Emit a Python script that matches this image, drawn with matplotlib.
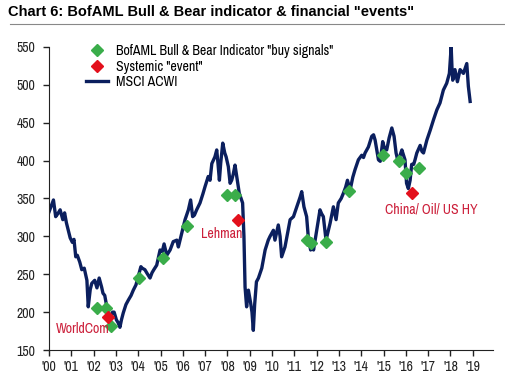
import matplotlib
matplotlib.use("Agg")
import matplotlib.pyplot as plt
from matplotlib.lines import Line2D

plt.rcParams['font.family'] = ['Archivo Narrow', 'Liberation Sans', 'DejaVu Sans']

# ── Data ─────────────────────────────────────────────────────────────────────
acwi_t = [2000.00, 2000.10, 2000.20, 2000.30, 2000.40, 2000.50, 2000.62, 2000.70, 2000.78, 2000.95,
          2001.05, 2001.12, 2001.20, 2001.27, 2001.38, 2001.47, 2001.58, 2001.70, 2001.76, 2001.85,
          2001.92, 2002.05, 2002.15, 2002.25, 2002.36, 2002.42, 2002.50, 2002.58, 2002.68, 2002.74,
          2002.85, 2002.92, 2003.02, 2003.10, 2003.18, 2003.25, 2003.33, 2003.45, 2003.56, 2003.68,
          2003.78, 2003.90, 2004.00, 2004.12, 2004.18, 2004.30, 2004.40, 2004.53, 2004.62, 2004.70,
          2004.83, 2004.98, 2005.08, 2005.16, 2005.28, 2005.43, 2005.57, 2005.73, 2005.80, 2005.95,
          2006.10, 2006.25, 2006.35, 2006.44, 2006.52, 2006.62, 2006.77, 2006.90, 2007.00, 2007.14,
          2007.22, 2007.30, 2007.44, 2007.52, 2007.58, 2007.64, 2007.70, 2007.79, 2007.88, 2007.94,
          2008.04, 2008.12, 2008.19, 2008.26, 2008.34, 2008.44, 2008.53, 2008.68, 2008.74, 2008.79,
          2008.86, 2008.94, 2009.04, 2009.10, 2009.16, 2009.22, 2009.30, 2009.39, 2009.54, 2009.69,
          2009.83, 2009.91, 2010.06, 2010.13, 2010.28, 2010.36, 2010.43, 2010.58, 2010.70, 2010.81,
          2010.96, 2011.11, 2011.26, 2011.33, 2011.43, 2011.55, 2011.63, 2011.73, 2011.80, 2011.86,
          2012.00, 2012.15, 2012.22, 2012.30, 2012.42, 2012.50, 2012.60, 2012.75, 2012.87, 2012.97,
          2013.10, 2013.20, 2013.30, 2013.38, 2013.50, 2013.62, 2013.72, 2013.87, 2014.02, 2014.10,
          2014.17, 2014.32, 2014.47, 2014.55, 2014.62, 2014.77, 2014.85, 2014.96, 2015.05, 2015.14,
          2015.25, 2015.37, 2015.47, 2015.56, 2015.67, 2015.75, 2015.82, 2015.96, 2016.03, 2016.11,
          2016.19, 2016.26, 2016.35, 2016.41, 2016.49, 2016.64, 2016.72, 2016.79, 2016.94, 2017.09,
          2017.24, 2017.39, 2017.53, 2017.68, 2017.83, 2017.95, 2018.03, 2018.07, 2018.10, 2018.20,
          2018.31, 2018.43, 2018.58, 2018.73, 2018.80, 2018.88]
acwi_v = [332, 340, 348, 326, 330, 335, 322, 331, 318, 298,
          292, 296, 273, 275, 266, 256, 258, 242, 207, 230,
          238, 242, 232, 245, 233, 225, 222, 209, 196, 194,
          200, 200, 190, 186, 180, 190, 199, 210, 216, 222,
          229, 236, 247, 260, 258, 256, 251, 245, 252, 256,
          262, 282, 280, 290, 275, 282, 293, 295, 286, 304,
          322, 335, 348, 326, 328, 335, 344, 356, 366, 379,
          374, 396, 405, 414, 395, 374, 397, 423, 410, 405,
          392, 370, 374, 382, 394, 374, 357, 344, 300, 233,
          207, 229, 212, 200, 176, 210, 240, 245, 258, 282,
          295, 300, 308, 295, 315, 300, 273, 286, 305, 322,
          326, 339, 352, 359, 339, 326, 297, 282, 290, 282,
          308, 335, 330, 326, 295, 305, 317, 339, 322, 344,
          350, 357, 365, 374, 361, 378, 388, 401, 407, 404,
          410, 418, 432, 434, 427, 401, 399, 425, 415, 414,
          430, 443, 432, 410, 396, 408, 414, 401, 370, 363,
          374, 395, 395, 401, 410, 420, 412, 410, 427, 440,
          454, 467, 476, 493, 502, 515, 550, 520, 506, 520,
          504, 520, 515, 528, 498, 478]

buy_t = [2002.17, 2002.54, 2002.80, 2004.05, 2005.10, 2006.17, 2007.97, 2008.34,
         2011.55, 2011.73, 2012.42, 2013.45, 2014.99, 2015.70, 2016.00, 2016.59]
buy_v = [206, 206, 182, 245, 271, 314, 355, 355,
         295, 291, 292, 360, 407, 400, 384, 390]

event_t = [2002.66, 2008.46, 2016.26]
event_v = [194, 322, 357]
event_labels = ['WorldCom', 'Lehman', 'China/ Oil/ US HY']

year_ticks = list(range(2000, 2020))
year_labels = ["'%02d" % (y % 100) for y in year_ticks]

navy = '#0b1f5e'
green = '#3aad4a'
red = '#e3101c'
txt_red = '#cc1f3a'

# ── Figure ───────────────────────────────────────────────────────────────────
fig = plt.figure(figsize=(5.05, 3.78), dpi=100)
ax = fig.add_axes([0.097, 0.074, 0.879, 0.802])

ax.plot(acwi_t, acwi_v, color=navy, lw=2.4, zorder=2)
ax.plot(buy_t, buy_v, ls='none', marker='D', ms=6, color=green, mec=green, zorder=3)
ax.plot(event_t, event_v, ls='none', marker='D', ms=6, color=red, mec=red, zorder=4)

ax.text(2000.3, 178, event_labels[0], color=txt_red, fontsize=10, va='center', ha='left')
ax.text(2007.76, 303, event_labels[1], color=txt_red, fontsize=10, va='center', ha='center')
ax.text(2017.13, 336, event_labels[2], color=txt_red, fontsize=10, va='center', ha='center')

ax.set_xlim(2000, 2019.9)
ax.set_ylim(150, 550)
ax.set_yticks(range(150, 551, 50))
ax.set_xticks(year_ticks)
ax.set_xticklabels(year_labels)
ax.tick_params(labelsize=10, colors='#222222', length=4, width=1)
ax.tick_params(axis='y', pad=6)
for s in ['top', 'right']:
    ax.spines[s].set_visible(False)
for s in ['left', 'bottom']:
    ax.spines[s].set_color('#222222')

handles = [
    Line2D([], [], ls='none', marker='D', ms=6, color=green, label='BofAML Bull & Bear Indicator "buy signals"'),
    Line2D([], [], ls='none', marker='D', ms=6, color=red, label='Systemic "event"'),
    Line2D([], [], color=navy, lw=2.4, label='MSCI ACWI'),
]
ax.legend(handles=handles, loc='upper left', bbox_to_anchor=(0.055, 1.05), frameon=False,
          fontsize=10, handlelength=1.6, handletextpad=0.6, labelspacing=0.1)

fig.text(0.016, 0.968, 'Chart 6: BofAML Bull & Bear indicator & financial "events"',
         fontsize=10.5, fontweight='bold', family=['Liberation Sans', 'DejaVu Sans'],
         va='center', ha='left')
fig.add_artist(Line2D([0.02, 1.0], [0.937, 0.937], color='#888888', lw=0.8))

fig.savefig('out.png', dpi=100)
